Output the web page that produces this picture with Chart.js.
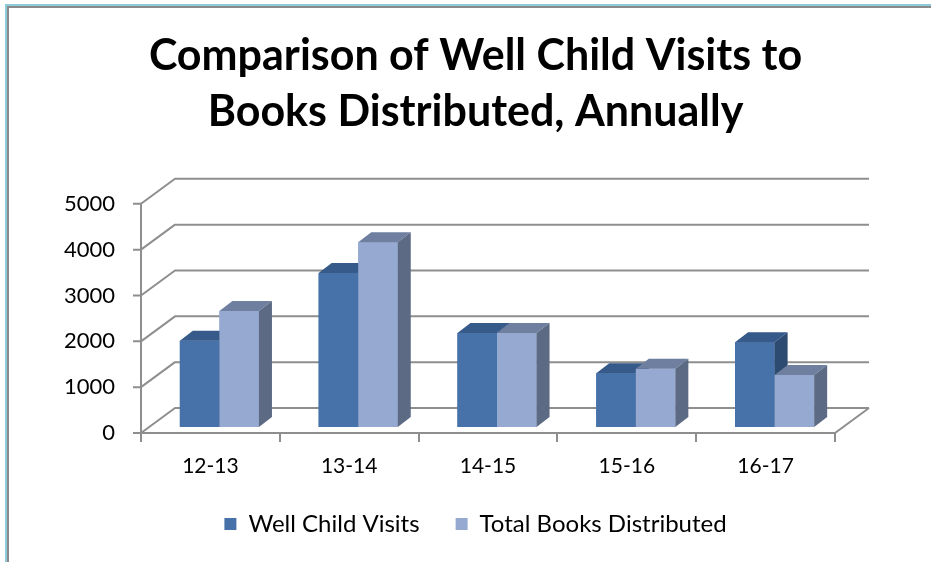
<!DOCTYPE html>
<html lang="en">

<head>
  <meta charset="UTF-8" />
  <title>Well Child Visits vs Books Distributed</title>
  <style>
    html, body { margin: 0; padding: 0; background: #fff; overflow: hidden; }
    .frame-outer { position: absolute; left: 5px; top: 4px; width: 960px; height: 600px;
      border-left: 2px solid #8fcadb; border-top: 2px solid #8fcadb; }
    .frame-inner { position: absolute; left: 7px; top: 6px; width: 960px; height: 600px;
      border-left: 2px solid #8a8a8a; border-top: 2px solid #8a8a8a; }
    #chart { position: absolute; left: 0; top: 0; }
  </style>
</head>

<body>
  <div class="frame-outer"></div>
  <div class="frame-inner"></div>
  <canvas id="chart" width="931" height="562"></canvas>

  <script src="https://cdn.jsdelivr.net/npm/chart.js"></script>
  <script>
    const years = ["12-13", "13-14", "14-15", "15-16", "16-17"];
    const wellChildVisits = [1880, 3360, 2050, 1170, 1850];
    const booksDistributed = [2530, 4030, 2050, 1270, 1135];
    const yMax = 5000;
    const yStep = 1000;

    // fake 3D: depth of the back wall and of each bar, in px
    const WALL_DX = 34, WALL_DY = -25;
    const BAR_DX = 13, BAR_DY = -10;
    const BAR_SHIFT_X = 9, BAR_SHIFT_Y = -6;
    const GRID = "#8e8e8e";
    const AREA_BOTTOM = 433;
    const PAD_LEFT = 20, PAD_BOTTOM = 16;

    const box3d = {
      id: "box3d",
      beforeDatasetsDraw(chart) {
        const { ctx, chartArea: a, scales: { y } } = chart;
        ctx.save();
        ctx.strokeStyle = GRID;
        ctx.lineWidth = 2;
        ctx.lineJoin = "bevel";
        ctx.beginPath();
        y.ticks.forEach(t => {
          const py = y.getPixelForValue(t.value);
          ctx.moveTo(a.left - 8, py);
          ctx.lineTo(a.left, py);
          ctx.lineTo(a.left + WALL_DX, py + WALL_DY);
          ctx.lineTo(a.right + WALL_DX, py + WALL_DY);
        });
        // value axis
        ctx.moveTo(a.left, y.getPixelForValue(yMax));
        ctx.lineTo(a.left, a.bottom + 9);
        // floor front edge and right edge
        ctx.moveTo(a.left, a.bottom);
        ctx.lineTo(a.right, a.bottom);
        ctx.lineTo(a.right + WALL_DX, a.bottom + WALL_DY);
        // category tick marks
        const step = (a.right - a.left) / years.length;
        for (let i = 1; i <= years.length; i++) {
          const px = Math.round(a.left + i * step);
          ctx.moveTo(px, a.bottom);
          ctx.lineTo(px, a.bottom + 9);
        }
        ctx.stroke();
        ctx.restore();

        // bars stand a bit behind the front edge of the floor
        ctx.save();
        ctx.translate(BAR_SHIFT_X, BAR_SHIFT_Y);
      },
      afterDatasetsDraw(chart) {
        const ctx = chart.ctx;
        // redraw left-to-right so each bar's side sits behind its right neighbour
        chart.data.datasets.forEach((ds, i) => {
          chart.getDatasetMeta(i).data.forEach(bar => {
            const { x, y, base, width } = bar.getProps(["x", "y", "base", "width"], true);
            const l = x - width / 2, r = x + width / 2;
            bar.draw(ctx);
            // top face
            ctx.fillStyle = ds.topColor;
            ctx.beginPath();
            ctx.moveTo(l, y);
            ctx.lineTo(r, y);
            ctx.lineTo(r + BAR_DX, y + BAR_DY);
            ctx.lineTo(l + BAR_DX, y + BAR_DY);
            ctx.closePath();
            ctx.fill();
            // right side face
            ctx.fillStyle = ds.sideColor;
            ctx.beginPath();
            ctx.moveTo(r, y);
            ctx.lineTo(r + BAR_DX, y + BAR_DY);
            ctx.lineTo(r + BAR_DX, base + BAR_DY);
            ctx.lineTo(r, base);
            ctx.closePath();
            ctx.fill();
          });
        });
        ctx.restore();
      }
    };

    Chart.defaults.font.family = "Lato, 'Open Sans', sans-serif";
    Chart.defaults.color = "#000";

    new Chart(document.getElementById("chart"), {
      type: "bar",
      data: {
        labels: years,
        datasets: [
          {
            label: "Well Child Visits",
            data: wellChildVisits,
            backgroundColor: "#4672a9",
            topColor: "#365a89",
            sideColor: "#2d4a70",
            borderWidth: 0,
            clip: false
          },
          {
            label: "Total Books Distributed",
            data: booksDistributed,
            backgroundColor: "#95a9d1",
            topColor: "#6e7fa0",
            sideColor: "#5c6a84",
            borderWidth: 0,
            clip: false
          }
        ]
      },
      options: {
        responsive: false,
        devicePixelRatio: 1,
        animation: false,
        categoryPercentage: 0.57,
        barPercentage: 1.0,
        layout: { padding: { top: 0, left: PAD_LEFT, right: 0, bottom: PAD_BOTTOM } },
        scales: {
          x: {
            grid: { display: false, drawTicks: false },
            border: { display: false },
            ticks: { padding: 21, font: { size: 21 }, color: "#000" },
            afterFit(scale) {
              const legendH = scale.chart.legend ? scale.chart.legend.height : 0;
              scale.height = scale.chart.height - AREA_BOTTOM - legendH - PAD_BOTTOM;
            }
          },
          y: {
            min: 0,
            max: yMax,
            grid: { display: false, drawTicks: false },
            border: { display: false },
            ticks: {
              stepSize: yStep,
              padding: 26,
              font: { size: 22 },
              color: "#000",
              callback: v => String(v)
            },
            afterFit(scale) {
              scale.width = 141 - PAD_LEFT;
            }
          },
          // empty axis that keeps room on the right for the back wall
          yRight: {
            position: "right",
            grid: { display: false, drawTicks: false },
            border: { display: false },
            ticks: { display: false },
            afterFit(scale) {
              scale.width = 96;
            }
          }
        },
        plugins: {
          title: {
            display: true,
            text: ["Comparison of Well Child Visits to", "Books Distributed, Annually"],
            color: "#000",
            font: { size: 43, weight: "bold", lineHeight: 1.3 },
            padding: { top: 28, bottom: 64 }
          },
          legend: {
            position: "bottom",
            labels: {
              boxWidth: 12,
              boxHeight: 12,
              padding: 36,
              color: "#000",
              font: { size: 24 }
            }
          },
          tooltip: { enabled: false }
        }
      },
      plugins: [box3d]
    });
  </script>
</body>

</html>
